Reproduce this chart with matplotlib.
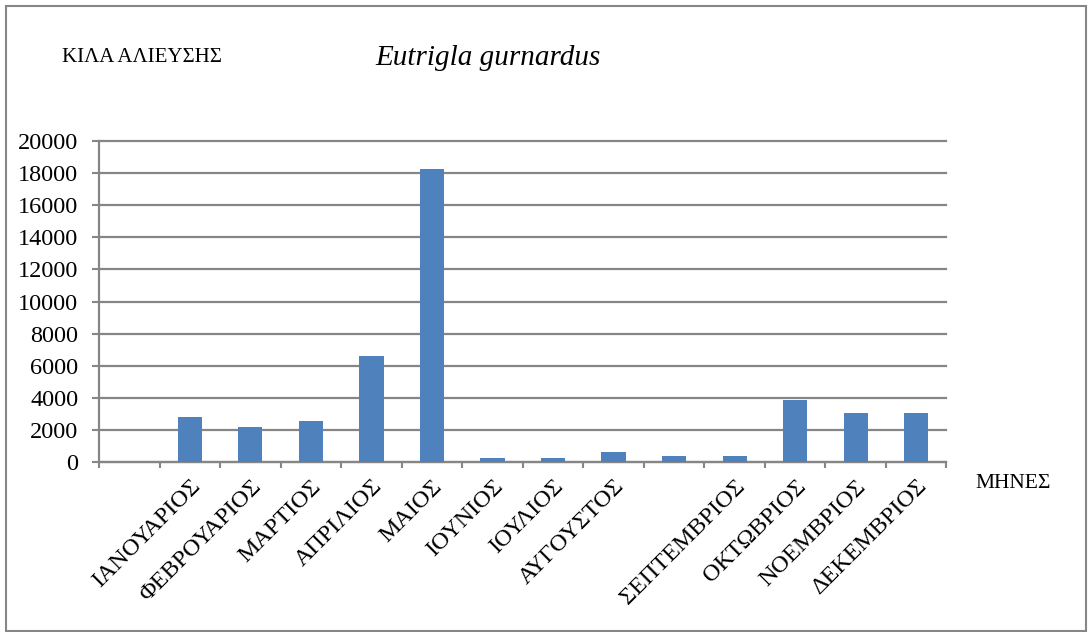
import matplotlib
matplotlib.use("Agg")
import matplotlib.pyplot as plt
from matplotlib.patches import Rectangle

categories = ["", "ΙΑΝΟΥΑΡΙΟΣ", "ΦΕΒΡΟΥΑΡΙΟΣ", "ΜΑΡΤΙΟΣ", "ΑΠΡΙΛΙΟΣ", "ΜΑΙΟΣ",
              "ΙΟΥΝΙΟΣ", "ΙΟΥΛΙΟΣ", "ΑΥΓΟΥΣΤΟΣ", "", "ΣΕΠΤΕΜΒΡΙΟΣ",
              "ΟΚΤΩΒΡΙΟΣ", "ΝΟΕΜΒΡΙΟΣ", "ΔΕΚΕΜΒΡΙΟΣ"]
values = [0, 2820, 2180, 2530, 6600, 18230, 230, 250, 620, 360, 360, 3840, 3070, 3030]
yticks = [0, 2000, 4000, 6000, 8000, 10000, 12000, 14000, 16000, 18000, 20000]

plt.rcParams['font.family'] = ['Liberation Serif', 'DejaVu Serif']

W, H = 1088, 632
fig = plt.figure(figsize=(W / 100, H / 100), dpi=100)
ax = fig.add_axes([99 / W, 1 - 462 / H, (946.5 - 99) / W, (462 - 141) / H])

x = list(range(len(categories)))
ax.bar(x, values, width=0.4, color="#4F81BD", zorder=3)

ax.set_xlim(-0.5, len(categories) - 0.5)
ax.set_ylim(0, 20000)
ax.set_yticks(yticks)
ax.set_yticklabels([str(v) for v in yticks], fontsize=17.5)
ax.yaxis.grid(True, color="#868686", linewidth=1.6, zorder=0)
ax.set_axisbelow(True)
for gl in ax.get_ygridlines():
    gl.set_clip_on(False)

ax.set_xticks(x)
ax.set_xticklabels(categories, rotation=45, ha="right", rotation_mode="anchor", fontsize=17.4)
ax.tick_params(axis="x", length=0, pad=10)
# boundary ticks
ax.set_xticks([i - 0.5 for i in range(len(categories) + 1)], minor=True)
ax.tick_params(axis="x", which="minor", length=4.5, width=1.5, color="#868686")
ax.tick_params(axis="y", length=5, width=1.5, color="#868686", pad=10)

for s in ["top", "right"]:
    ax.spines[s].set_visible(False)
for s in ["left", "bottom"]:
    ax.spines[s].set_color("#868686")
    ax.spines[s].set_linewidth(1.6)

fig.text(62 / W, 1 - 57 / H, "ΚΙΛΑ ΑΛΙΕΥΣΗΣ", fontsize=15, va="center", ha="left")
fig.text(375 / W, 1 - 58 / H, "Eutrigla gurnardus", fontsize=21, style="italic",
         va="center", ha="left")
fig.text(975 / W, 1 - 483 / H, "ΜΗΝΕΣ", fontsize=15.5, va="center", ha="left")

fig.patches.append(Rectangle((6 / W, 1 / H), (1086 - 6) / W, (626 - 1) / H,
                             transform=fig.transFigure, fill=False,
                             edgecolor="#868686", linewidth=1.5))

fig.savefig("out.png", dpi=100)
